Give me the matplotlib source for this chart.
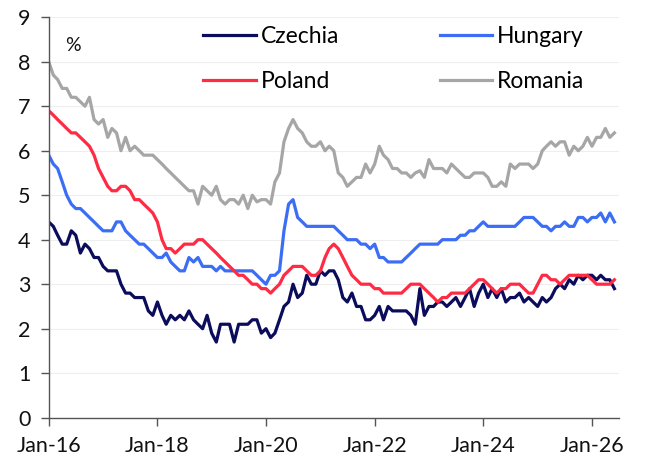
import matplotlib.pyplot as plt
import matplotlib.dates as mdates
import pandas as pd

# monthly, Jan 2016 - Jun 2026
dates = pd.date_range('2016-01-01', periods=126, freq='MS')

czechia = [4.4, 4.3, 4.1, 3.9, 3.9, 4.2, 4.1, 3.7, 3.9, 3.8, 3.6, 3.6,
           3.4, 3.3, 3.3, 3.3, 3.0, 2.8, 2.8, 2.7, 2.7, 2.7, 2.4, 2.3,
           2.6, 2.3, 2.1, 2.3, 2.2, 2.3, 2.2, 2.4, 2.2, 2.1, 2.0, 2.3,
           1.9, 1.7, 2.1, 2.1, 2.1, 1.7, 2.1, 2.1, 2.1, 2.2, 2.2, 1.9,
           2.0, 1.8, 1.9, 2.2, 2.5, 2.6, 3.0, 2.7, 2.8, 3.2, 3.0, 3.0,
           3.3, 3.2, 3.3, 3.3, 3.1, 2.7, 2.6, 2.8, 2.5, 2.5, 2.2, 2.2,
           2.3, 2.5, 2.2, 2.5, 2.4, 2.4, 2.4, 2.4, 2.3, 2.1, 2.9, 2.3,
           2.5, 2.5, 2.6, 2.6, 2.5, 2.6, 2.7, 2.5, 2.7, 2.9, 2.5, 2.8,
           3.0, 2.7, 2.9, 2.7, 2.9, 2.6, 2.7, 2.7, 2.8, 2.6, 2.7, 2.6,
           2.5, 2.7, 2.6, 2.7, 2.9, 3.0, 2.9, 3.1, 3.0, 3.2, 3.1, 3.2,
           3.2, 3.1, 3.2, 3.1, 3.1, 2.9]

hungary = [5.9, 5.7, 5.6, 5.3, 5.0, 4.8, 4.7, 4.7, 4.6, 4.5, 4.4, 4.3,
           4.2, 4.2, 4.2, 4.4, 4.4, 4.2, 4.1, 4.0, 3.9, 3.9, 3.8, 3.7,
           3.6, 3.6, 3.7, 3.5, 3.4, 3.3, 3.3, 3.6, 3.5, 3.6, 3.4, 3.4,
           3.4, 3.3, 3.4, 3.3, 3.3, 3.3, 3.3, 3.3, 3.3, 3.3, 3.2, 3.1,
           3.0, 3.2, 3.2, 3.3, 4.2, 4.8, 4.9, 4.5, 4.4, 4.3, 4.3, 4.3,
           4.3, 4.3, 4.3, 4.3, 4.2, 4.1, 4.0, 4.0, 4.0, 3.9, 3.9, 3.8,
           3.9, 3.6, 3.6, 3.5, 3.5, 3.5, 3.5, 3.6, 3.7, 3.8, 3.9, 3.9,
           3.9, 3.9, 3.9, 4.0, 4.0, 4.0, 4.0, 4.1, 4.1, 4.2, 4.2, 4.3,
           4.4, 4.3, 4.3, 4.3, 4.3, 4.3, 4.3, 4.3, 4.4, 4.5, 4.5, 4.5,
           4.4, 4.3, 4.3, 4.2, 4.3, 4.3, 4.4, 4.3, 4.3, 4.5, 4.5, 4.4,
           4.5, 4.5, 4.6, 4.4, 4.6, 4.4]

poland = [6.9, 6.8, 6.7, 6.6, 6.5, 6.4, 6.4, 6.3, 6.2, 6.1, 5.9, 5.6,
          5.4, 5.2, 5.1, 5.1, 5.2, 5.2, 5.1, 4.9, 4.9, 4.8, 4.7, 4.6,
          4.4, 4.0, 3.8, 3.8, 3.7, 3.8, 3.9, 3.9, 3.9, 4.0, 4.0, 3.9,
          3.8, 3.7, 3.6, 3.5, 3.4, 3.3, 3.2, 3.2, 3.1, 3.0, 3.0, 2.9,
          2.9, 2.8, 2.9, 3.0, 3.2, 3.3, 3.4, 3.4, 3.4, 3.3, 3.2, 3.2,
          3.3, 3.6, 3.8, 3.9, 3.8, 3.6, 3.4, 3.2, 3.1, 3.0, 3.0, 3.0,
          2.9, 2.9, 2.8, 2.8, 2.8, 2.8, 2.8, 2.9, 3.0, 3.0, 3.0, 2.9,
          2.8, 2.7, 2.6, 2.7, 2.7, 2.8, 2.8, 2.8, 2.8, 2.9, 3.0, 3.1,
          3.1, 3.0, 2.9, 2.8, 2.9, 2.9, 3.0, 3.0, 3.0, 2.9, 2.8, 2.8,
          3.0, 3.2, 3.2, 3.1, 3.1, 3.0, 3.1, 3.2, 3.2, 3.2, 3.2, 3.2,
          3.1, 3.0, 3.0, 3.0, 3.0, 3.1]

romania = [8.0, 7.7, 7.6, 7.4, 7.4, 7.2, 7.2, 7.1, 7.0, 7.2, 6.7, 6.6,
           6.7, 6.3, 6.5, 6.4, 6.0, 6.3, 6.0, 6.1, 6.0, 5.9, 5.9, 5.9,
           5.8, 5.7, 5.6, 5.5, 5.4, 5.3, 5.2, 5.1, 5.1, 4.8, 5.2, 5.1,
           5.0, 5.2, 4.9, 4.8, 4.9, 4.9, 4.8, 5.0, 4.7, 5.0, 4.85, 4.9,
           4.9, 4.8, 5.3, 5.5, 6.2, 6.5, 6.7, 6.5, 6.4, 6.2, 6.1, 6.1,
           6.2, 6.0, 6.1, 6.0, 5.5, 5.4, 5.2, 5.3, 5.4, 5.4, 5.7, 5.5,
           5.7, 6.1, 5.9, 5.8, 5.6, 5.6, 5.5, 5.5, 5.4, 5.5, 5.55, 5.4,
           5.8, 5.6, 5.6, 5.6, 5.5, 5.7, 5.6, 5.5, 5.4, 5.4, 5.5, 5.5,
           5.5, 5.4, 5.2, 5.2, 5.3, 5.2, 5.7, 5.6, 5.7, 5.7, 5.7, 5.6,
           5.7, 6.0, 6.1, 6.2, 6.1, 6.2, 6.2, 5.9, 6.1, 6.0, 6.1, 6.3,
           6.1, 6.3, 6.3, 6.5, 6.3, 6.4]

plt.rcParams['font.family'] = ['Lato', 'DejaVu Sans']

fig = plt.figure(figsize=(6.45, 4.59), dpi=100)
ax = fig.add_axes([0.0755, 0.09, 0.884, 0.8725])

lw = 2.3
l_ro, = ax.plot(dates, romania, color='#a6a6a6', lw=lw, label='Romania')
l_hu, = ax.plot(dates, hungary, color='#3b6ef5', lw=lw, label='Hungary')
l_cz, = ax.plot(dates, czechia, color='#0b0c5c', lw=lw, label='Czechia')
l_pl, = ax.plot(dates, poland, color='#ff2a44', lw=lw, label='Poland')

ax.set_ylim(0, 9)
ax.set_yticks(range(0, 10))
ax.set_xlim(pd.Timestamp('2016-01-01'), pd.Timestamp('2026-07-01'))
ax.set_xticks(pd.date_range('2016-01-01', '2026-01-01', freq='24MS'))
ax.xaxis.set_major_formatter(mdates.DateFormatter('Jan-%y'))

ax.grid(axis='y', color='#eeeeee', lw=0.8)
ax.set_axisbelow(True)
for s in ['top', 'right']:
    ax.spines[s].set_visible(False)
for s in ['left', 'bottom']:
    ax.spines[s].set_color('#555555')
    ax.spines[s].set_linewidth(1)
ax.tick_params(axis='both', labelsize=15.5, colors='#555555', labelcolor='#111111',
               length=6, width=1)
ax.tick_params(axis='y', pad=7)
ax.tick_params(axis='x', pad=7)

ax.text(0.029, 0.915, '%', transform=ax.transAxes, fontsize=14, color='#111111',
        va='baseline')

ax.legend([l_cz, l_pl, l_hu, l_ro], ['Czechia', 'Poland', 'Hungary', 'Romania'],
          ncol=2, frameon=False, fontsize=16.5, handlelength=2.3, handletextpad=0.22,
          columnspacing=4.37, labelspacing=1.05, loc='upper left',
          bbox_to_anchor=(0.255, 1.0), borderaxespad=0)

fig.savefig('out.png', dpi=100)
